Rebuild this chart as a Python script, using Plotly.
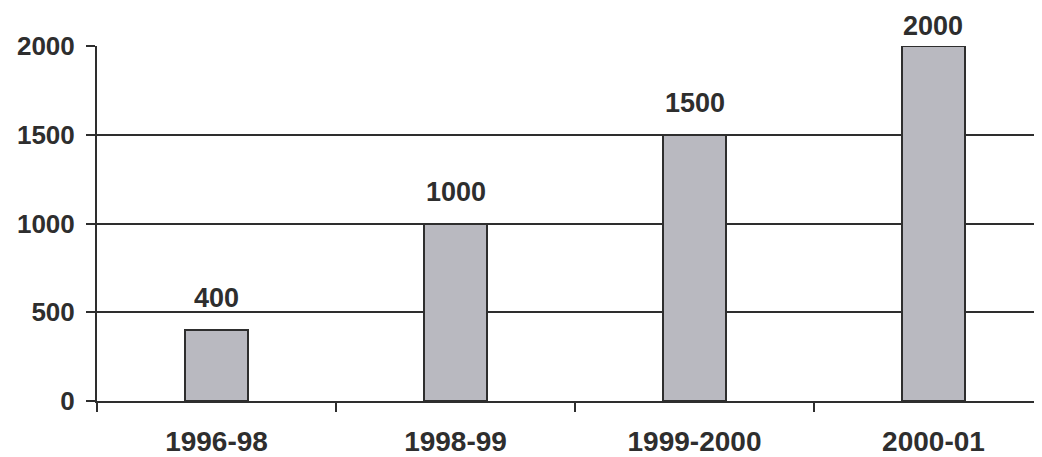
import plotly.graph_objects as go

categories = ["1996-98", "1998-99", "1999-2000", "2000-01"]
values = [400, 1000, 1500, 2000]
y_ticks = [0, 500, 1000, 1500, 2000]

DARK = "#2e2e2e"
BAR = "#b9b9c0"
FONT = "Liberation Sans, Arial, sans-serif"

fig = go.Figure()
fig.add_trace(go.Bar(
    x=categories, y=values, width=0.26,
    marker=dict(color=BAR, line=dict(color=DARK, width=2)),
    hoverinfo="skip",
))

ymax = max(y_ticks)
for c, v in zip(categories, values):
    fig.add_annotation(
        x=c, y=v, text=f"<b>{v}</b>", showarrow=False,
        yanchor="bottom", yshift=(3 if v >= ymax else 15),
        font=dict(family=FONT, size=27, color=DARK),
    )

fig.update_layout(
    width=1034, height=449,
    margin=dict(l=89, r=0, t=38, b=46),
    paper_bgcolor="white", plot_bgcolor="white",
    showlegend=False, bargap=0,
    font=dict(family=FONT, color=DARK),
)
fig.update_xaxes(
    type="category", categoryorder="array", categoryarray=categories,
    range=[-0.5, 3.454], tickson="boundaries", ticks="outside", ticklen=9,
    tickwidth=2, tickcolor=DARK, showgrid=False, showline=True,
    linecolor=DARK, linewidth=2, ticklabelstandoff=14,
    tickfont=dict(family=FONT, size=28, color=DARK, weight="bold"),
)
fig.update_yaxes(
    range=[0, ymax], tickvals=y_ticks, ticks="outside", ticklen=9,
    tickwidth=2, tickcolor=DARK, showgrid=True, gridcolor=DARK, gridwidth=2,
    showline=True, linecolor=DARK, linewidth=2, zeroline=False,
    ticklabelstandoff=6,
    tickfont=dict(family=FONT, size=26, color=DARK, weight="bold"),
)

fig.write_html("out.html")
